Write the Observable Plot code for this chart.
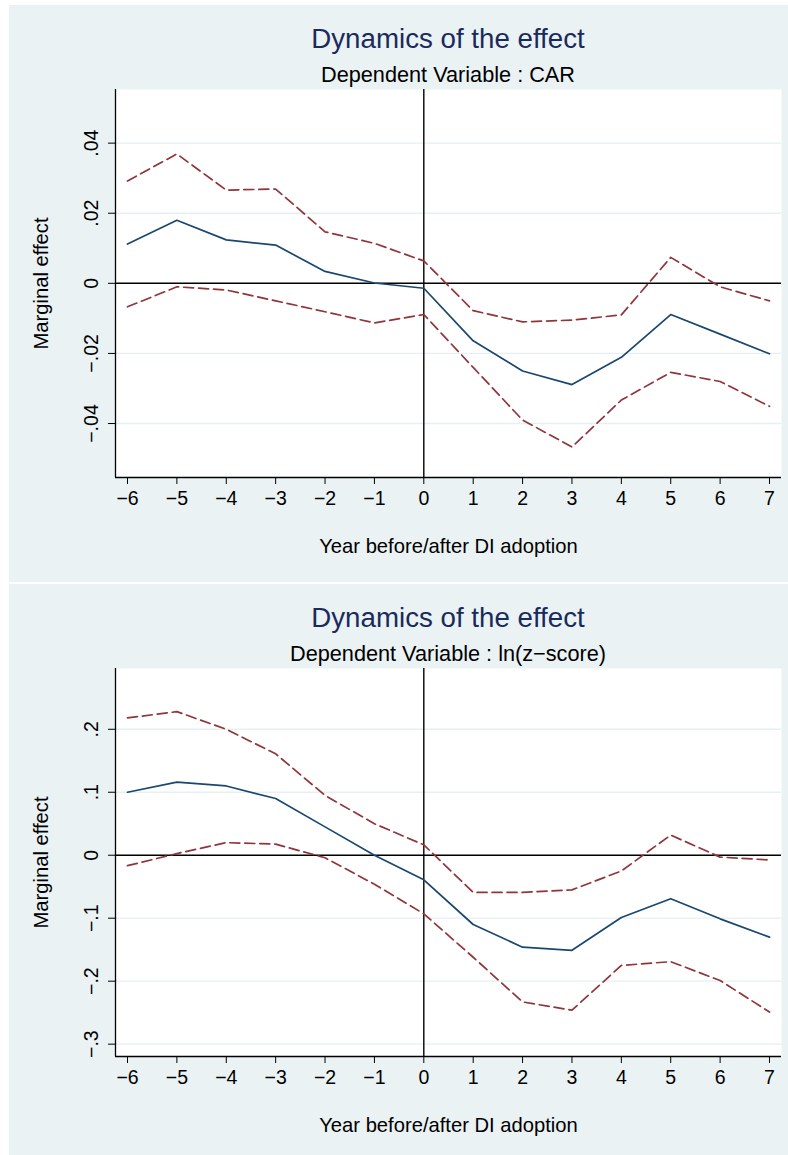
<!DOCTYPE html>
<html><head><meta charset="utf-8">
<script src="https://cdn.jsdelivr.net/npm/d3@7"></script>
<script src="https://cdn.jsdelivr.net/npm/@observablehq/plot@0.6"></script>
<style>
html,body{margin:0;padding:0;width:788px;height:1155px;overflow:hidden;background:#fff;font-family:"Liberation Sans",Arial,sans-serif;}
.panel{position:absolute;left:9px;width:779px;height:577px;background:#eaf2f3;overflow:hidden;}
.ttl{position:absolute;left:106px;width:666px;text-align:center;line-height:1;white-space:nowrap;}
.t1{top:20px;font-size:27.7px;color:#1a2a5c;}
.t2{top:59px;font-size:21.7px;color:#000;}
</style></head><body>
<script>
const years = [-6, -5, -4, -3, -2, -1, 0, 1, 2, 3, 4, 5, 6, 7];
const carEst   = [0.0112, 0.0180, 0.0124, 0.0109, 0.0034, 0.0001, -0.0014, -0.0164, -0.0250, -0.0289, -0.0211, -0.0089, -0.0145, -0.0201];
const carUpper = [0.0292, 0.0369, 0.0266, 0.0269, 0.0147, 0.0114, 0.0064, -0.0078, -0.0110, -0.0105, -0.0090, 0.0074, -0.0010, -0.0050];
const carLower = [-0.0067, -0.0010, -0.0019, -0.0050, -0.0081, -0.0113, -0.0089, -0.0240, -0.0390, -0.0467, -0.0333, -0.0254, -0.0280, -0.0351];
const zEst   = [0.100, 0.116, 0.110, 0.090, 0.045, 0.000, -0.039, -0.110, -0.146, -0.151, -0.099, -0.069, -0.101, -0.130];
const zUpper = [0.218, 0.228, 0.200, 0.161, 0.095, 0.050, 0.0165, -0.059, -0.059, -0.055, -0.025, 0.032, -0.003, -0.0075];
const zLower = [-0.0166, 0.0026, 0.020, 0.0176, -0.004, -0.046, -0.093, -0.162, -0.233, -0.246, -0.175, -0.169, -0.199, -0.249];
const carTicks = [-0.04, -0.02, 0, 0.02, 0.04];
const zTicks = [-0.3, -0.2, -0.1, 0, 0.1, 0.2];
const carDomain = [-0.0554, 0.0553];
const zDomain = [-0.3196, 0.2965];
const xDomain = [-6.243, 7.243];
const titleText = "Dynamics of the effect";
const subtitles = ["Dependent Variable : CAR", "Dependent Variable : ln(z\u2212score)"];
const yLabel = "Marginal effect";
const xLabel = "Year before/after DI adoption";

function fmtY(dec) {
  return v => {
    if (Math.abs(v) < 1e-12) return "0";
    return (v < 0 ? "\u2212" : "") + Math.abs(v).toFixed(dec).replace(/^0/, "");
  };
}
function fmtX(v) { return (v < 0 ? "\u2212" : "") + Math.abs(v); }

function panel(top, sub, est, upper, lower, yDomain, yTicks, dec) {
  const div = document.createElement("div");
  div.className = "panel";
  div.style.top = top + "px";
  const t1 = document.createElement("div");
  t1.className = "ttl t1"; t1.textContent = titleText;
  const t2 = document.createElement("div");
  t2.className = "ttl t2"; t2.textContent = sub;
  div.appendChild(t1); div.appendChild(t2);
  const rows = years.map((x, i) => ({x, est: est[i], up: upper[i], lo: lower[i]}));
  const chart = Plot.plot({
    width: 779, height: 495,
    marginLeft: 106, marginRight: 7, marginTop: 2, marginBottom: 105,
    style: {background: "transparent", color: "black", fontFamily: '"Liberation Sans", Arial, sans-serif', fontSize: "19.5px", overflow: "visible"},
    x: {domain: xDomain},
    y: {domain: yDomain},
    marks: [
      Plot.frame({fill: "white", stroke: "none"}),
      Plot.gridY(yTicks, {stroke: "#e6eff1", strokeOpacity: 1, strokeWidth: 1.3}),
      Plot.ruleY([0], {stroke: "black", strokeWidth: 1.4}),
      Plot.ruleX([0], {stroke: "black", strokeWidth: 1.4}),
      Plot.line(rows, {x: "x", y: "up", stroke: "#90353b", strokeWidth: 1.7, strokeDasharray: "10,5"}),
      Plot.line(rows, {x: "x", y: "lo", stroke: "#90353b", strokeWidth: 1.7, strokeDasharray: "10,5"}),
      Plot.line(rows, {x: "x", y: "est", stroke: "#1a476f", strokeWidth: 1.7}),
      Plot.ruleX([xDomain[0]], {stroke: "black", strokeWidth: 1.3}),
      Plot.ruleY([yDomain[0]], {stroke: "black", strokeWidth: 1.3}),
      Plot.axisY(yTicks, {anchor: "left", tickSize: 7, tickPadding: 10.5, tickRotate: -90, tickFormat: fmtY(dec), label: null, fontSize: 19.5}),
      Plot.axisY([], {anchor: "left", tickSize: 0, label: yLabel, labelAnchor: "center", labelOffset: 82, labelArrow: "none", fontSize: 20.2}),
      Plot.axisX(years, {anchor: "bottom", tickSize: 7, tickPadding: 6.5, tickFormat: fmtX, label: null, fontSize: 19.5}),
      Plot.axisX([], {anchor: "bottom", tickSize: 0, label: xLabel, labelAnchor: "center", labelOffset: 75, labelArrow: "none", fontSize: 20.2})
    ]
  });
  chart.style.position = "absolute";
  chart.style.left = "0px";
  chart.style.top = "82px";
  div.appendChild(chart);
  document.body.appendChild(div);
}
panel(5, subtitles[0], carEst, carUpper, carLower, carDomain, carTicks, 2);
panel(584, subtitles[1], zEst, zUpper, zLower, zDomain, zTicks, 1);
</script>
</body></html>
